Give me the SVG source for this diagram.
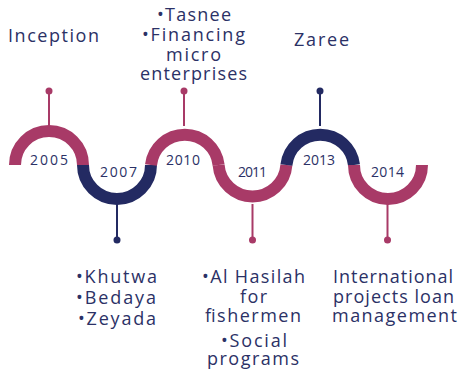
<svg xmlns="http://www.w3.org/2000/svg" width="461" height="372" viewBox="0 0 461 372">
<style>
.t{font-family:"Open Sans","Liberation Sans",sans-serif;font-size:18px;fill:#2B3166;text-anchor:middle}
.y{font-family:"Open Sans","Liberation Sans",sans-serif;font-size:14px;fill:#2B3166;text-anchor:middle}
.m{stroke:#A83A67;fill:none}
.n{stroke:#232A62;fill:none}
.arc{stroke-width:12}
.pin{stroke-width:2}
.dm{fill:#A83A67}
.dn{fill:#232A62}
</style>
<rect width="461" height="372" fill="#ffffff"/>
<g id="connectors">
<path class="m arc" d="M15,165 A34,34 0 0 1 83,165"/>
<path class="n arc" d="M83,165 A34,34 0 0 0 151,165"/>
<path class="m arc" d="M151,165 A34,34 0 0 1 218.6,165"/>
<path class="m arc" d="M218.6,165 A34,34 0 0 0 286.4,165"/>
<path class="n arc" d="M286.4,165 A34,34 0 0 1 354,165"/>
<path class="m arc" d="M354,165 A34,34 0 0 0 422,165"/>
</g>
<g id="n2005">
<line class="m pin" x1="49" y1="91" x2="49" y2="126"/>
<circle class="dm" cx="49" cy="91" r="3.5"/>
<text class="y" x="49" y="165" textLength="38">2005</text>
<text class="t" x="53.5" y="42" textLength="91">Inception</text>
</g>
<g id="n2007">
<line class="n pin" x1="117" y1="204" x2="117" y2="240"/>
<circle class="dn" cx="117" cy="240" r="3.5"/>
<text class="y" x="118.5" y="177" textLength="37">2007</text>
<text class="t" x="116.5" y="283" textLength="81">•Khutwa</text>
<text class="t" x="116" y="304" textLength="80">•Bedaya</text>
<text class="t" x="117" y="325" textLength="78">•Zeyada</text>
</g>
<g id="n2010">
<line class="m pin" x1="184" y1="91" x2="184" y2="126"/>
<circle class="dm" cx="184" cy="91" r="3.5"/>
<text class="y" x="183" y="165" textLength="34">2010</text>
<text class="t" x="194" y="21" textLength="74">•Tasnee</text>
<text class="t" x="193.5" y="41" textLength="103">•Financing</text>
<text class="t" x="193.5" y="61" textLength="55">micro</text>
<text class="t" x="193.5" y="80" textLength="107">enterprises</text>
</g>
<g id="n2011">
<line class="m pin" x1="252.5" y1="204" x2="252.5" y2="240"/>
<circle class="dm" cx="252.5" cy="240" r="3.5"/>
<text class="y" x="252.5" y="177" textLength="29">2011</text>
<text class="t" x="253.5" y="283" textLength="103">•Al Hasilah</text>
<text class="t" x="253.5" y="303" textLength="27">for</text>
<text class="t" x="253" y="322" textLength="96">fishermen</text>
<text class="t" x="254" y="347" textLength="66">•Social</text>
<text class="t" x="253" y="365" textLength="92">programs</text>
</g>
<g id="n2013">
<line class="n pin" x1="320" y1="91" x2="320" y2="126"/>
<circle class="dn" cx="320" cy="91" r="3.5"/>
<text class="y" x="319" y="165" textLength="32">2013</text>
<text class="t" x="321.5" y="46" textLength="55">Zaree</text>
</g>
<g id="n2014">
<line class="m pin" x1="387.5" y1="204" x2="387.5" y2="240"/>
<circle class="dm" cx="387.5" cy="240" r="3.5"/>
<text class="y" x="387.5" y="177" textLength="33">2014</text>
<text class="t" x="393" y="283" textLength="120">International</text>
<text class="t" x="393.5" y="303" textLength="121">projects loan</text>
<text class="t" x="394.5" y="322" textLength="125">management</text>
</g>
</svg>
